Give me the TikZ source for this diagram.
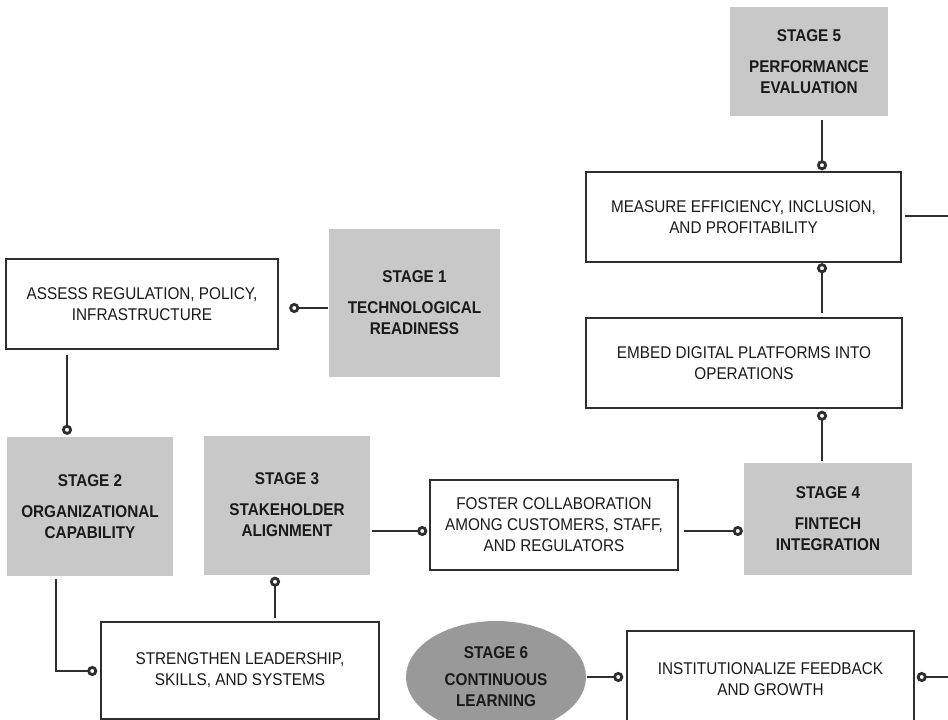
\documentclass[tikz,border=0pt]{standalone}
\usepackage{fontspec}
\setmainfont{Liberation Sans}[FakeStretch=0.9]
\usetikzlibrary{arrows.meta,shapes.geometric}
\definecolor{linec}{HTML}{2E2E2E}
\definecolor{txtc}{HTML}{1A1A1A}
\definecolor{stagefill}{HTML}{C8C8C8}
\definecolor{ovalfill}{HTML}{999999}
\tikzset{
  txtfont/.style={font=\fontsize{17}{21}\selectfont, text=txtc, align=center},
  plainbox/.style={txtfont, draw=linec, line width=1.5pt, fill=white, inner sep=0pt},
  stagebox/.style={txtfont, font=\fontsize{17}{21}\selectfont\bfseries, fill=stagefill, inner sep=0pt},
  stageoval/.style={txtfont, font=\fontsize{17}{21}\selectfont\bfseries, ellipse, fill=ovalfill, inner sep=0pt},
  conn/.style={draw=linec, line width=1.5pt, -{Circle[open,fill=white,length=10pt,width=10pt,line width=2.8pt]}},
  connplain/.style={draw=linec, line width=1.5pt}
}
\begin{document}
\begin{tikzpicture}[x=1pt,y=-1pt]
\useasboundingbox (0,0) rectangle (948,720);
\clip (0,0) rectangle (948,720);
\fill[white] (0,0) rectangle (948,720);

% nodes
\node[stagebox, minimum width=158pt, minimum height=109pt] (s5) at (809,61.5) {STAGE 5\\[10pt]PERFORMANCE\\EVALUATION};
\node[plainbox, minimum width=315pt, minimum height=90pt] (measure) at (743.5,217) {MEASURE EFFICIENCY, INCLUSION,\\AND PROFITABILITY};
\node[plainbox, minimum width=316pt, minimum height=90pt] (embed) at (744,363) {EMBED DIGITAL PLATFORMS INTO\\OPERATIONS};
\node[stagebox, minimum width=168pt, minimum height=112pt] (s4) at (828,519) {STAGE 4\\[10pt]FINTECH\\INTEGRATION};
\node[plainbox, minimum width=248pt, minimum height=90pt] (foster) at (554,525) {FOSTER COLLABORATION\\AMONG CUSTOMERS, STAFF,\\AND REGULATORS};
\node[stagebox, minimum width=166pt, minimum height=139pt] (s3) at (287,505) {STAGE 3\\[10pt]STAKEHOLDER\\ALIGNMENT};
\node[stagebox, minimum width=166pt, minimum height=139pt] (s2) at (90,506.5) {STAGE 2\\[10pt]ORGANIZATIONAL\\CAPABILITY};
\node[plainbox, minimum width=272pt, minimum height=90pt] (assess) at (142,304) {ASSESS REGULATION, POLICY,\\INFRASTRUCTURE};
\node[stagebox, minimum width=171pt, minimum height=148pt] (s1) at (414.5,303) {STAGE 1\\[10pt]TECHNOLOGICAL\\READINESS};
\node[plainbox, minimum width=278pt, minimum height=97pt] (strengthen) at (240,670.5) {STRENGTHEN LEADERSHIP,\\SKILLS, AND SYSTEMS};
\node[stageoval, minimum width=180pt, minimum height=112pt] (s6) at (496,677) {STAGE 6\\[6pt]CONTINUOUS\\LEARNING};
\node[plainbox, minimum width=287pt, minimum height=97pt] (inst) at (770.5,679.5) {INSTITUTIONALIZE FEEDBACK\\AND GROWTH};

\coordinate (redge1) at (948,216);
\coordinate (redge2) at (948,677);

% connectors
\draw[conn, shorten <=1pt, shorten >=10.5pt] (s1.west |- 0,308) -- (assess.east |- 0,308);
\draw[conn, shorten <=5pt, shorten >=2pt] (assess.south -| 67,0) -- (s2.north -| 67,0);
\draw[conn, shorten <=3pt, shorten >=3pt] (s2.south -| 56,0) -- (56,671) -- (strengthen.west |- 0,671);
\draw[conn, shorten <=3pt, shorten >=2pt] (strengthen.north -| 275,0) -- (s3.south -| 275,0);
\draw[conn, shorten <=2pt, shorten >=2pt] (s3.east |- 0,531) -- (foster.west |- 0,531);
\draw[conn, shorten <=5pt, shorten >=1pt] (foster.east |- 0,531) -- (s4.west |- 0,531);
\draw[conn, shorten <=2pt, shorten >=2pt] (s4.north -| 822,0) -- (embed.south -| 822,0);
\draw[conn, shorten <=4pt, shorten >=0.5pt] (embed.north -| 822,0) -- (measure.south -| 822,0);
\draw[conn, shorten <=4pt, shorten >=1pt] (s5.south -| 822,0) -- (measure.north -| 822,0);
\draw[connplain, shorten <=3pt] (measure.east |- redge1) -- (redge1);
\draw[conn, shorten <=1pt, shorten >=3pt] (s6.east |- 0,677) -- (inst.west |- 0,677);
\draw[conn, shorten >=2pt] (redge2) -- (inst.east |- redge2);
\end{tikzpicture}
\end{document}
